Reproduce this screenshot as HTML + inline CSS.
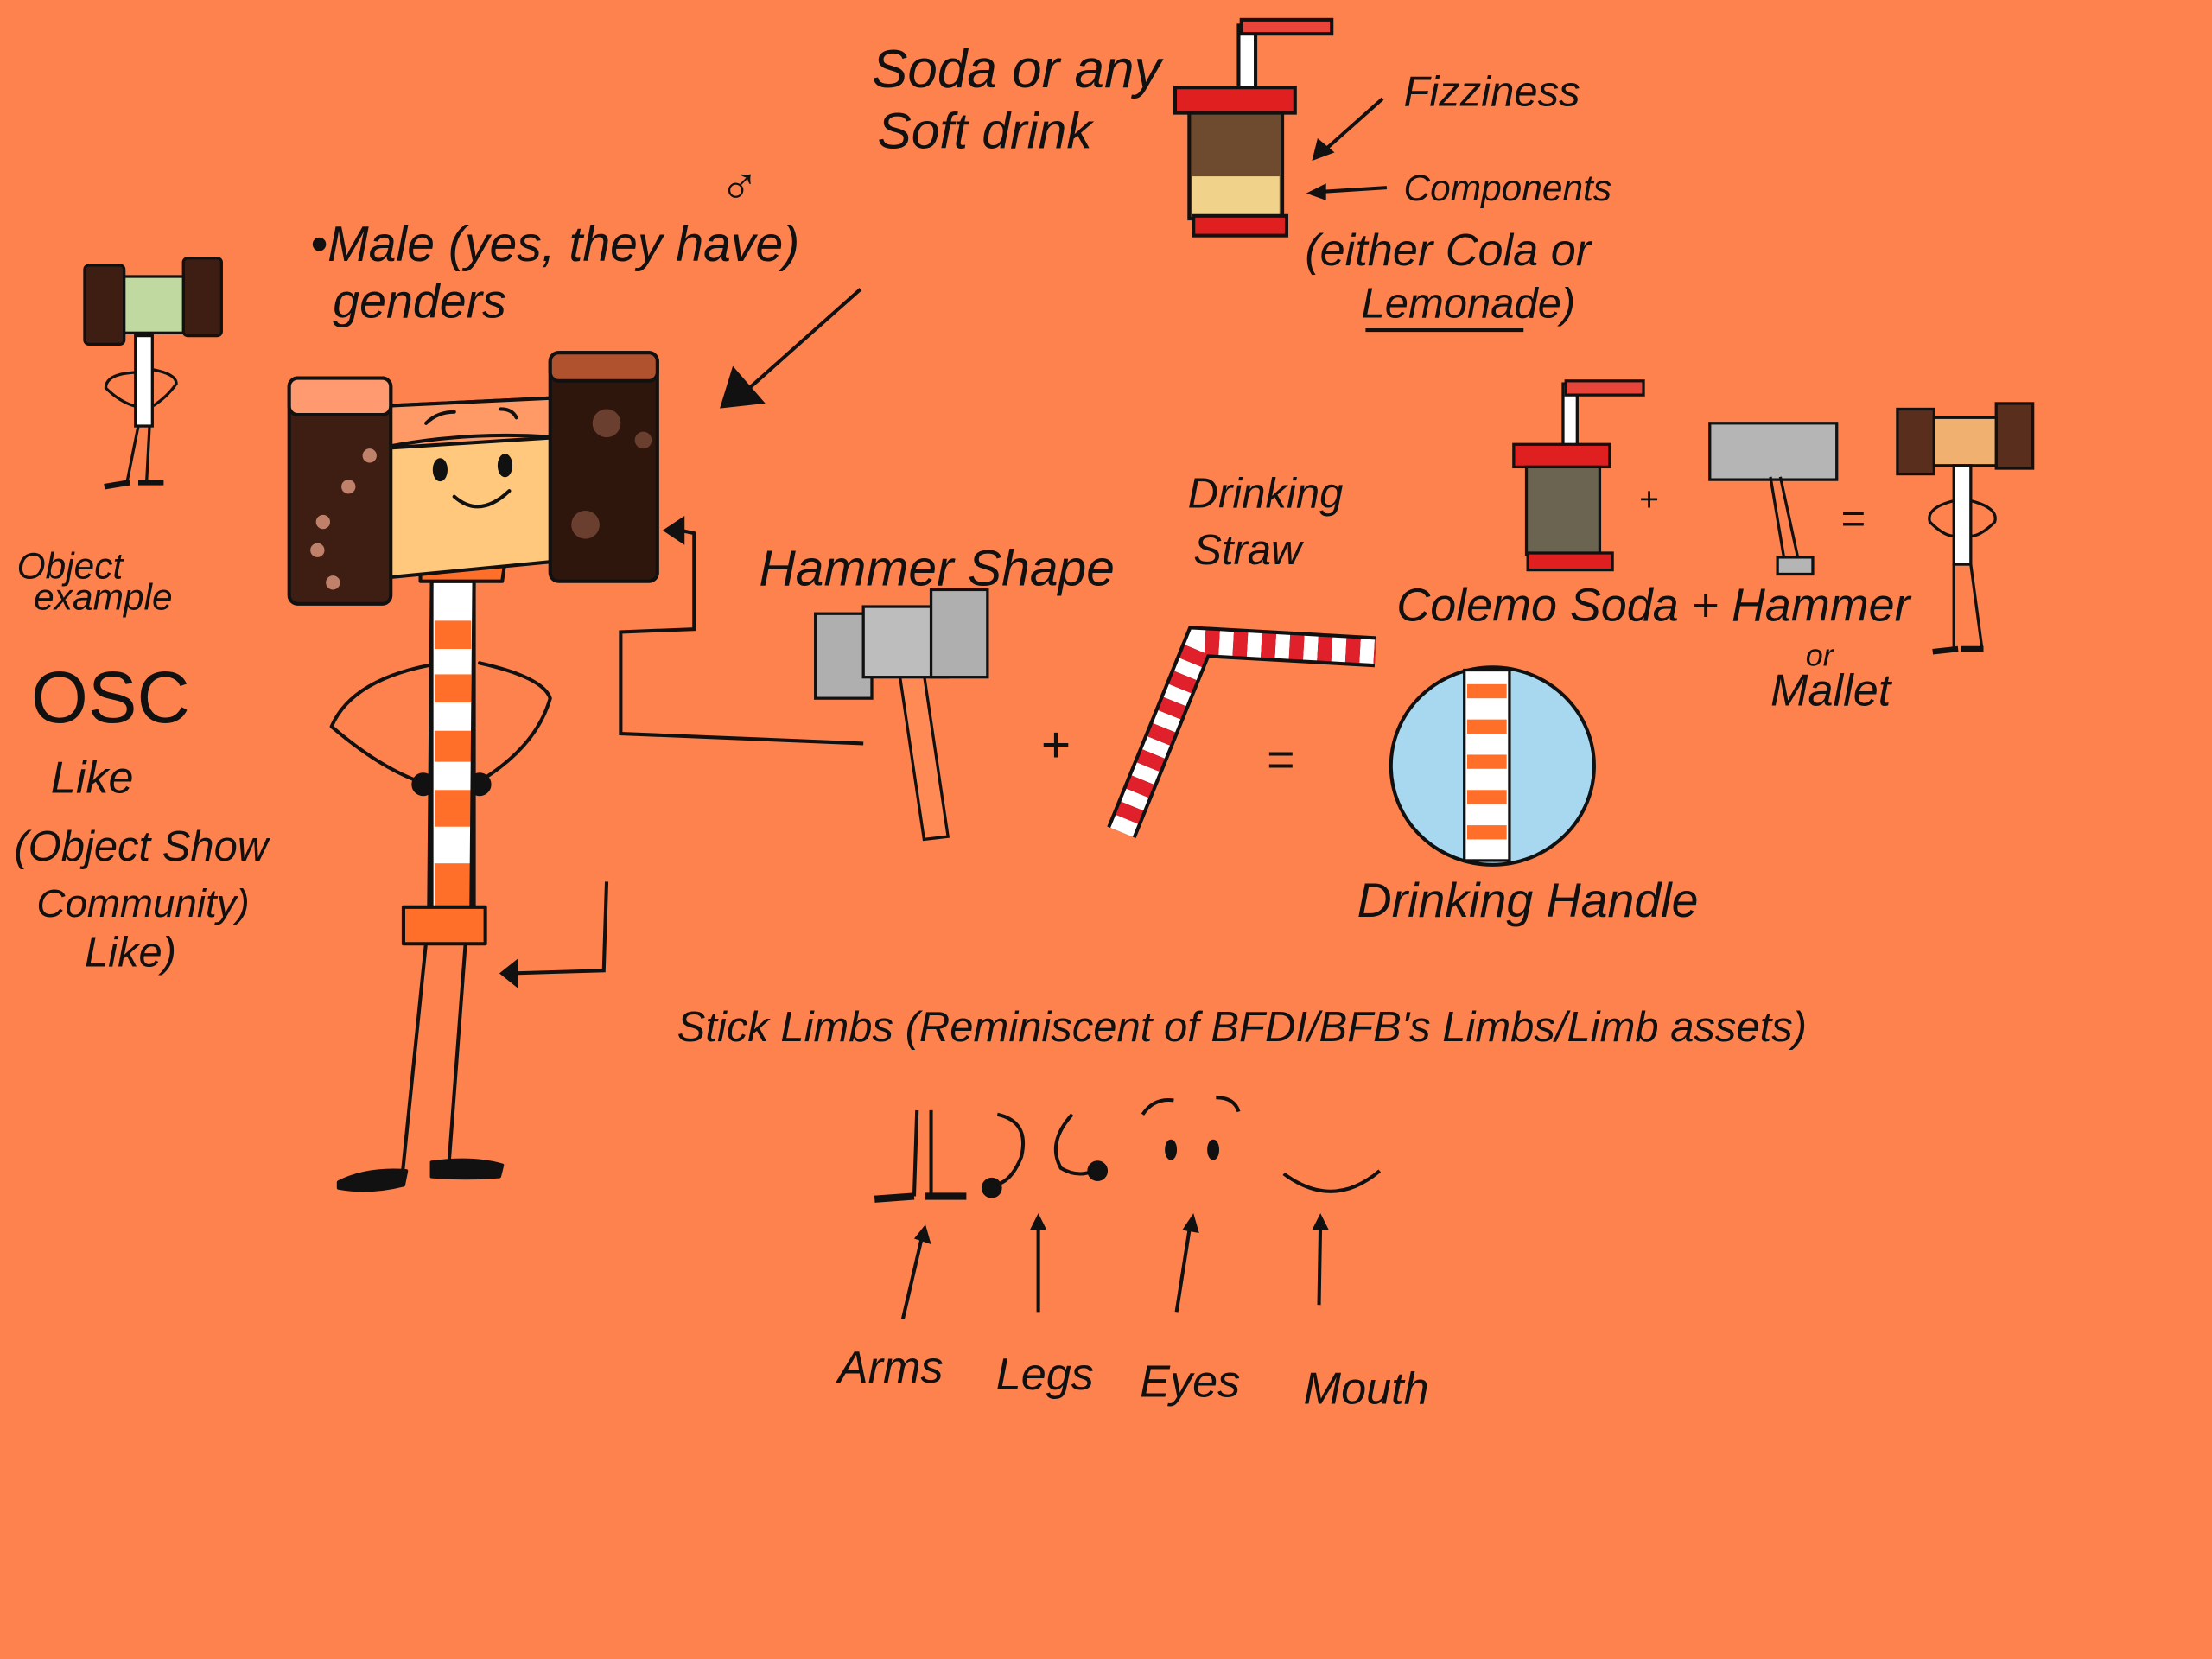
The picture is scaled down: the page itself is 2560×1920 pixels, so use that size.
<!DOCTYPE html>
<html><head><meta charset="utf-8"><style>
html,body{margin:0;padding:0;background:#FE824D;}
svg{display:block}
text{font-family:"Liberation Sans",sans-serif;fill:#111;font-style:italic}
</style></head><body>
<svg width="2560" height="1920" viewBox="0 0 1568 1176" xmlns="http://www.w3.org/2000/svg">
<rect width="1568" height="1176" fill="#FE824D"/>
<g stroke="#111" stroke-width="2.5" fill="none" stroke-linecap="round" stroke-linejoin="round">
<path d="M302 668 L285 835 M330 668 L318 828"/>
<path d="M240 838 Q260 828 288 830 L286 840 Q262 846 240 842Z" fill="#111"/>
<path d="M306 824 Q335 820 356 826 L354 834 Q330 836 306 834Z" fill="#111"/>
<path d="M313 470 Q250 480 235 515 Q270 545 300 555"/>
<path d="M340 470 Q385 480 390 495 Q380 530 338 555"/>
<circle cx="300" cy="556" r="7" fill="#111"/><circle cx="340" cy="556" r="7" fill="#111"/>
<rect x="306" y="412" width="30" height="232" fill="#fff"/>
<g stroke="none" fill="#FF6F2A">
<rect x="308" y="440" width="26" height="20"/><rect x="308" y="478" width="26" height="20"/><rect x="308" y="518" width="26" height="22"/><rect x="308" y="560" width="26" height="26"/><rect x="308" y="612" width="26" height="30"/>
</g>
<path d="M306 412 L304 644 M336 412 L334 644"/>
<rect x="286" y="643" width="58" height="26" fill="#FF6F2A"/>
<path d="M298 398 L298 412 L356 412 L358 398" fill="#FF6F2A"/>
<path d="M268 288 L395 282 L393 398 L268 410Z" fill="#FFC87C"/>
<path d="M268 288 L395 282 L395 310 L268 318Z" fill="#FF9A66"/>
<path d="M268 318 Q330 305 395 310"/>
<path d="M302 300 Q310 292 322 292 M355 290 Q363 290 366 296"/>
<ellipse cx="312" cy="333" rx="4" ry="7" fill="#111"/><ellipse cx="358" cy="330" rx="4" ry="7" fill="#111"/>
<path d="M322 352 Q340 368 361 348"/>
<rect x="205" y="268" width="72" height="160" rx="6" fill="#3E1E12"/>
<rect x="205" y="268" width="72" height="26" rx="6" fill="#FF9A70"/>
<rect x="390" y="250" width="76" height="162" rx="6" fill="#2E160C"/>
<rect x="390" y="250" width="76" height="20" rx="6" fill="#B0522E"/>
</g>
<g fill="#E09A80" opacity=".8">
<circle cx="229" cy="370" r="5"/><circle cx="262" cy="323" r="5"/><circle cx="247" cy="345" r="5"/><circle cx="225" cy="390" r="5"/><circle cx="236" cy="413" r="5"/><circle cx="430" cy="300" r="10" fill="#7A4A3A"/><circle cx="415" cy="372" r="10" fill="#7A4A3A"/><circle cx="456" cy="312" r="6" fill="#7A4A3A"/>
</g>

<g stroke="#111" stroke-width="2" fill="none">
<rect x="60" y="188" width="28" height="56" rx="3" fill="#3E1E12"/>
<rect x="130" y="183" width="27" height="55" rx="3" fill="#3E1E12"/>
<rect x="88" y="196" width="42" height="40" fill="#BFD9A0"/>
<rect x="96" y="238" width="12" height="64" fill="#fff"/>
<path d="M96 264 Q75 265 75 275 Q85 285 96 288 M108 262 Q125 265 125 272 Q118 282 108 288 M98 302 L90 342 M106 302 L104 340"/>
<path d="M74 345 L92 342 M98 342 L116 342" stroke-width="4"/>
</g>
<text x="12" y="410" font-size="26">Object</text>
<text x="24" y="432" font-size="26">example</text>
<text x="22" y="512" font-size="52" style="font-style:normal">OSC</text>
<text x="36" y="562" font-size="32">Like</text>
<text x="10" y="610" font-size="30">(Object Show</text>
<text x="26" y="650" font-size="28">Community)</text>
<text x="60" y="685" font-size="30">Like)</text>

<text x="220" y="185" font-size="35">•Male (yes, they have)</text>
<text x="236" y="225" font-size="34">genders</text>
<text x="510" y="145" font-size="38" style="font-style:normal">♂</text>
<g stroke="#111" stroke-width="2.5" fill="none">
<path d="M610 205 L520 285"/><path d="M512 288 L520 262 L540 285Z" fill="#111"/>
<path d="M612 527 L440 520 L440 448 L492 446 L492 378 L478 375"/>
<path d="M472 376 L484 368 L484 384Z" fill="#111"/>
<path d="M430 625 L428 688 L360 690"/>
<path d="M356 690 L366 682 L366 698Z" fill="#111"/>
</g>

<text x="618" y="62" font-size="38">Soda or any</text>
<text x="622" y="105" font-size="36">Soft  drink</text>
<g stroke="#111" stroke-width="2.5">
<rect x="878" y="18" width="12" height="52" fill="#fff"/>
<rect x="880" y="14" width="64" height="10" fill="#E8443A"/>
<rect x="833" y="62" width="85" height="18" fill="#E02020"/>
<rect x="843" y="80" width="66" height="75" fill="#6E4A2E"/>
<rect x="845" y="125" width="62" height="28" fill="#F0D28A" stroke="none"/>
<rect x="846" y="153" width="66" height="14" fill="#E02020"/>
</g>
<text x="995" y="75" font-size="30">Fizziness</text>
<text x="995" y="142" font-size="26">Components</text>
<text x="925" y="188" font-size="32">(either Cola or</text>
<text x="965" y="225" font-size="30">Lemonade)</text>
<g stroke="#111" stroke-width="2.5"><path d="M980 70 L935 110 M983 133 L935 136 M968 234 L1080 234"/></g>
<g fill="#111"><path d="M930 114 L934 98 L946 108Z"/><path d="M926 137 L940 130 L940 142Z"/></g>

<text x="538" y="415" font-size="36">Hammer Shape</text>
<text x="842" y="360" font-size="30">Drinking</text>
<text x="846" y="400" font-size="30">Straw</text>
<g stroke="#111" stroke-width="2">
<path d="M638 480 L655 595 L672 593 L655 478Z" fill="#FF8A55"/>
<rect x="578" y="435" width="40" height="60" fill="#AFAFAF"/>
<rect x="612" y="430" width="60" height="50" fill="#BDBDBD"/>
<rect x="660" y="418" width="40" height="62" fill="#AFAFAF"/>
</g>
<text x="738" y="540" font-size="36" style="font-style:normal">+</text>
<path d="M795 590 L850 455 L975 462" stroke="#111" stroke-width="22" fill="none"/>
<path d="M795 590 L850 455 L975 462" stroke="#fff" stroke-width="17" fill="none" stroke-dasharray="10 10"/>
<path d="M795 590 L850 455 L975 462" stroke="#E0202A" stroke-width="17" fill="none" stroke-dasharray="10 10" stroke-dashoffset="10"/>
<text x="898" y="550" font-size="34" style="font-style:normal">=</text>
<ellipse cx="1058" cy="543" rx="72" ry="70" fill="#A8D8F0" stroke="#111" stroke-width="2.5"/>
<rect x="1038" y="475" width="32" height="135" fill="#fff" stroke="#111" stroke-width="2"/>
<g fill="#FF6F2A"><rect x="1040" y="485" width="28" height="10"/><rect x="1040" y="510" width="28" height="10"/><rect x="1040" y="535" width="28" height="10"/><rect x="1040" y="560" width="28" height="10"/><rect x="1040" y="585" width="28" height="10"/></g>
<text x="962" y="650" font-size="34">Drinking Handle</text>

<g stroke="#111" stroke-width="2" fill="none">
<rect x="1108" y="272" width="10" height="45" fill="#fff"/>
<rect x="1110" y="270" width="55" height="10" fill="#E8443A"/>
<rect x="1073" y="315" width="68" height="16" fill="#E02020"/>
<rect x="1082" y="331" width="52" height="62" fill="#6A6450"/>
<rect x="1083" y="392" width="60" height="12" fill="#E02020"/>
<rect x="1212" y="300" width="90" height="40" fill="#B5B5B5"/>
<path d="M1255 338 L1265 398 M1262 338 L1275 398"/>
<rect x="1260" y="395" width="25" height="12" fill="#B5B5B5"/>
<rect x="1345" y="290" width="26" height="46" fill="#5A2E1C"/>
<rect x="1415" y="286" width="26" height="46" fill="#5A2E1C"/>
<rect x="1371" y="296" width="44" height="34" fill="#F0B070"/>
<rect x="1385" y="330" width="12" height="70" fill="#fff"/>
<path d="M1385 355 Q1365 360 1368 370 Q1378 380 1385 380 M1397 355 Q1417 360 1414 370 Q1404 380 1397 380 M1385 400 L1385 460 M1397 400 L1405 460"/>
<path d="M1370 462 L1388 460 M1390 460 L1406 460" stroke-width="4"/>
</g>
<text x="1162" y="362" font-size="24" style="font-style:normal">+</text>
<text x="1305" y="378" font-size="30" style="font-style:normal">=</text>
<text x="990" y="440" font-size="33">Colemo Soda + Hammer</text>
<text x="1280" y="472" font-size="22">or</text>
<text x="1255" y="500" font-size="32">Mallet</text>

<text x="480" y="738" font-size="30">Stick Limbs (Reminiscent of BFDI/BFB's Limbs/Limb assets)</text>
<g stroke="#111" stroke-width="2.5" fill="none">
<path d="M650 787 L648 848 M660 787 L660 848"/>
<path d="M620 850 L648 848 M656 848 L685 848" stroke-width="5"/>
<path d="M707 790 Q730 795 724 820 Q716 840 703 840"/><circle cx="703" cy="842" r="6" fill="#111"/>
<path d="M760 790 Q742 810 752 828 Q764 835 775 830"/><circle cx="778" cy="830" r="6" fill="#111"/>
<path d="M810 790 Q818 778 832 780 M862 778 Q875 778 878 788"/>
<ellipse cx="830" cy="815" rx="3" ry="6" fill="#111"/><ellipse cx="860" cy="815" rx="3" ry="6" fill="#111"/>
<path d="M910 832 Q945 858 978 830"/>
<path d="M640 935 L654 875 M736 930 L736 866 M834 930 L844 866 M935 925 L936 866"/>
</g>
<g fill="#111"><path d="M648 878 L656 868 L660 882Z"/><path d="M730 872 L736 860 L742 872Z"/><path d="M838 872 L846 860 L850 874Z"/><path d="M930 872 L936 860 L942 872Z"/></g>
<text x="594" y="980" font-size="32">Arms</text>
<text x="706" y="985" font-size="32">Legs</text>
<text x="808" y="990" font-size="32">Eyes</text>
<text x="924" y="995" font-size="32">Mouth</text>
</svg>
</body></html>
